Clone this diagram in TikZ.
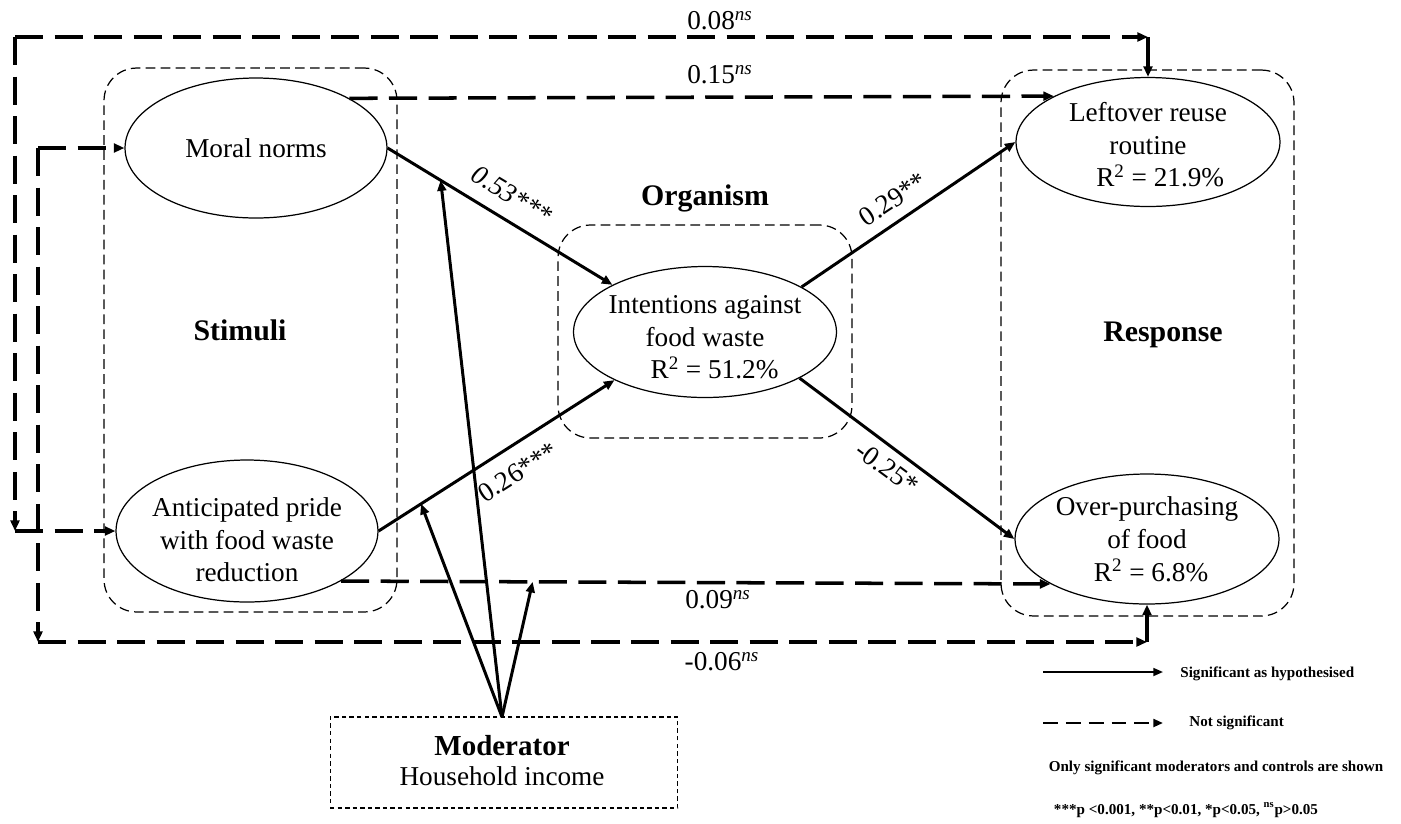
\documentclass[tikz,border=0pt]{standalone}
\usepackage{fontspec}
\setmainfont{Liberation Serif}
\usetikzlibrary{shapes.geometric,arrows.meta}
\begin{document}
\begin{tikzpicture}[x=0.02cm,y=-0.02cm,
  grp/.style={draw, line width=0.7pt, dash pattern=on 5.5pt off 3pt, rounded corners=0.65cm, inner sep=0pt},
  modbox/.style={draw, line width=0.6pt, dash pattern=on 2.5pt off 1.8pt, inner sep=0pt},
  ell/.style={ellipse, draw, line width=0.7pt, inner sep=0pt},
  txt/.style={font=\fontsize{15.5}{18.7}\selectfont, align=center, inner sep=0pt},
  hd/.style={font=\fontsize{17}{19}\selectfont\bfseries, inner sep=0pt},
  coef/.style={font=\fontsize{15.5}{17}\selectfont, inner sep=0pt},
  tip/.style={-{Triangle[length=6pt,width=5pt]}},
  sig/.style={line width=1.7pt, tip},
  ns/.style={line width=2pt, dash pattern=on 16pt off 6.5pt, tip},
  nsv/.style={line width=2pt, tip},
  legsig/.style={line width=1.1pt, -{Triangle[length=5.5pt,width=4.5pt]}},
  legns/.style={line width=1.3pt, dash pattern=on 8.5pt off 4.5pt, -{Triangle[length=5.5pt,width=4.5pt]}},
  leg/.style={font=\fontsize{8.6}{10}\selectfont\bfseries, inner sep=0pt}
]
\useasboundingbox (0,0) rectangle (1401,823);

% group boxes
\node[grp, minimum width=5.86cm, minimum height=10.88cm] (stim) at (250.5,340) {};
\node[grp, minimum width=5.88cm, minimum height=4.26cm] (orgbox) at (705,331.5) {};
\node[grp, minimum width=5.86cm, minimum height=10.92cm] (resp) at (1147.5,343) {};
\node[modbox, minimum width=6.96cm, minimum height=1.82cm] (mod) at (504,762.5) {};

% group headings
\node[hd] (stimlbl) at (240,330) {Stimuli};
\node[hd] (orglbl) at (705,198) {Organism};
\node[hd] (resplbl) at (1163,335) {Response};
\node[hd, font=\fontsize{16.5}{19}\selectfont\bfseries] (modlbl) at (502,746) {Moderator};
\node[txt] (modtxt) at (502,776) {Household income};

% constructs
\node[ell, minimum width=5.24cm, minimum height=2.8cm,
  label={[txt]center:Moral norms}] (mn) at (256,148) {};
\node[ell, minimum width=5.24cm, minimum height=2.84cm,
  label={[txt, yshift=-5pt]center:{Anticipated pride\\with food waste\\reduction}}] (ap) at (247,531) {};
\node[ell, minimum width=5.26cm, minimum height=2.62cm,
  label={[txt, yshift=-3pt]center:{Intentions against\\food waste\\\hspace*{0.7em}R\textsuperscript{2} = 51.2\%}}] (int) at (705,332) {};
\node[ell, minimum width=5.28cm, minimum height=2.58cm,
  label={[txt, yshift=-1.5pt]center:{Leftover reuse\\routine\\\hspace*{0.9em}R\textsuperscript{2} = 21.9\%}}] (lr) at (1148,142) {};
\node[ell, minimum width=5.28cm, minimum height=2.6cm,
  label={[txt]center:{Over-purchasing\\of food\\\hspace*{0.3em}R\textsuperscript{2} = 6.8\%}}] (op) at (1147,539) {};

% significant paths
\draw[sig] (mn.east) -- coordinate[pos=0.236] (t1) (int.153);
\draw[sig] (ap.east) -- coordinate[pos=0.18] (t2) (int.208);
\draw[sig] (int.25.8) -- (lr.west);
\draw[sig] (int.-26.3) -- (op.west);

% coefficient labels on significant paths
\node[coef, rotate=-31, font=\fontsize{15.5}{17}\selectfont\itshape] (l53) at (512,195) {0.53***};
\node[coef, rotate=32.5] (l26) at (518,472) {0.26***};
\node[coef, rotate=33.6] (l29) at (893,199) {0.29**};
\node[coef, rotate=-36.5] (l25) at (887,468) {-0.25*};

% non-significant direct paths
\draw[ns] (mn.28.5) -- (lr.154.4);
\draw[ns] (ap.-28.5) -- coordinate[pos=0.27] (t3) (op.205.8);

% outer path (anticipated pride -> leftover reuse)
\coordinate (c1) at (15,37);
\coordinate (c3) at (c1 |- ap.west);
\coordinate (c2) at (lr.north |- c1);
\draw[ns] (c1) -- (c2);
\draw[nsv] (c2) -- (lr.north);
\draw[ns] (c1) -- (c3);
\draw[ns] (c3) -- (ap.west);

% inner path (moral norms -> over-purchasing)
\coordinate (d3) at (38,642);
\coordinate (d1) at (d3 |- mn.west);
\coordinate (d2) at (op.south |- d3);
\draw[ns] (d1) -- (mn.west);
\draw[ns] (d1) -- (d3);
\draw[ns] (d3) -- (d2);
\draw[nsv] (d2) -- (op.south);

% ns labels
\node[coef] (l08) at (720,21) {0.08\textsuperscript{\textit{ns}}};
\node[coef] (l15) at (720,75) {0.15\textsuperscript{\textit{ns}}};
\node[coef] (l09) at (718,600) {0.09\textsuperscript{\textit{ns}}};
\node[coef] (l06) at (722,662) {-0.06\textsuperscript{\textit{ns}}};

% moderator arrows
\coordinate (m0) at (502,717);
\draw[sig] (m0) -- (t1);
\draw[sig] (m0) -- (t2);
\draw[sig] (m0) -- (t3);

% legend
\coordinate (ga) at (1043,672);
\coordinate (gb) at (1163,672);
\coordinate (gc) at (1043,723);
\coordinate (gd) at (1163,723);
\draw[legsig] (ga) -- (gb);
\draw[legns] (gc) -- (gd);
\node[leg, anchor=west] (lg1) at (1180,674) {Significant as hypothesised};
\node[leg, anchor=west] (lg2) at (1189,723) {Not significant};
\node[leg] (lg3) at (1216,768) {Only significant moderators and controls are shown};
\node[leg] (lg4) at (1186,810) {***p <0.001, **p<0.01, *p<0.05, \textsuperscript{ns}p>0.05};
\end{tikzpicture}
\end{document}
